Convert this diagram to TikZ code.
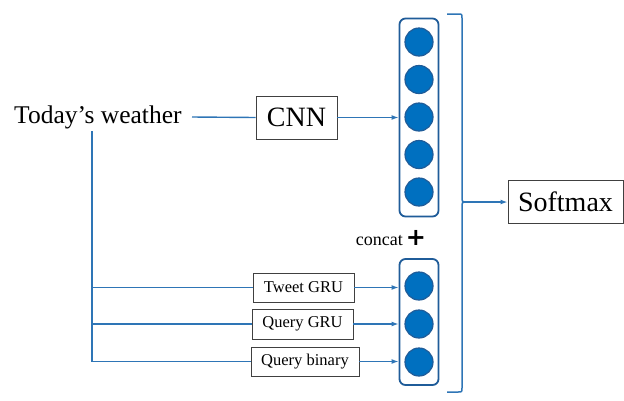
\documentclass[tikz,border=0pt]{standalone}
\usepackage{fontspec}
\setmainfont{Liberation Serif}
\newfontfamily\plusfont{DejaVu Sans}
\usetikzlibrary{arrows.meta}
\definecolor{lineblue}{HTML}{2E75B6}
\definecolor{fillblue}{HTML}{0070C0}
\definecolor{edgeblue}{HTML}{1F5C99}
\definecolor{boxgray}{HTML}{404040}
\tikzset{
  conn/.style={draw=lineblue, line width=1.4pt},
  arr/.style={conn, -{Latex[length=7pt,width=5pt]}},
  textbox/.style={draw=boxgray, line width=0.9pt, inner sep=0pt, align=center},
  bigbox/.style={textbox, font=\fontsize{28}{28}\selectfont},
  smallbox/.style={textbox, font=\fontsize{16.5}{16.5}\selectfont},
  column/.style={draw=edgeblue, line width=1.8pt, rounded corners=6pt, fill=white, inner sep=0pt, minimum width=39pt},
  unit/.style={circle, draw=edgeblue, line width=1.2pt, fill=fillblue, minimum size=28pt, inner sep=0pt},
}
\begin{document}
\begin{tikzpicture}[x=1pt,y=-1pt]
\useasboundingbox (0,0) rectangle (624,400);
% input text
\node[anchor=base west, inner sep=0pt, font=\fontsize{25.5}{25.5}\selectfont] (tw) at (14,123) {Today’s weather};
\coordinate (twout) at (192,117);
\coordinate (twdown) at (92,131);
\coordinate (br1) at (92,287.5);
\coordinate (br2) at (92,324);
\coordinate (br3) at (92,361.5);
% CNN
\node[bigbox, minimum width=81pt, minimum height=43pt] (cnn) at (296.5,117.5) {CNN};
% top column
\node[column, minimum height=198pt] (colA) at (419,117.5) {};
\foreach \i/\y in {1/42,2/79.5,3/117,4/154.5,5/192}{
  \node[unit] (a\i) at (419,\y) {};
}
% bottom column
\node[column, minimum height=126pt] (colB) at (419,322) {};
\foreach \i/\y in {1/286,2/324,3/362}{
  \node[unit] (b\i) at (419,\y) {};
}
% small boxes
\node[smallbox, minimum width=101pt, minimum height=29pt] (tgru) at (303.5,287.5) {Tweet GRU};
\node[smallbox, minimum width=101pt, minimum height=30pt] (qgru) at (302.5,324) {Query GRU};
\node[smallbox, minimum width=108pt, minimum height=29pt] (qbin) at (305,361.5) {Query binary};
% softmax
\node[bigbox, minimum width=115pt, minimum height=43pt] (soft) at (565.5,202) {Softmax};
% concat +
\node[anchor=base east, inner sep=0pt, font=\fontsize{18}{18}\selectfont] (concat) at (403,245) {concat};
\node[inner sep=0pt, font=\plusfont\bfseries\fontsize{24}{24}\selectfont] (plus) at (416,238) {+};
% connectors
\draw[conn] (twout) -- (cnn.west);
\draw[arr] (cnn.east) -- (cnn.east -| colA.west);
\draw[conn] (twdown) -- (br3);
\draw[conn] (br1) -- (tgru.west);
\draw[conn] (br2) -- (qgru.west);
\draw[conn] (br3) -- (qbin.west);
\draw[arr] (tgru.east) -- (tgru.east -| colB.west);
\draw[arr] (qgru.east) -- (qgru.east -| colB.west);
\draw[arr] (qbin.east) -- (qbin.east -| colB.west);
% bracket
\coordinate (tip) at (467,202);
\draw[conn, line width=1.5pt] (447,14) -- (458,14) .. controls (462,14) .. (462,18) -- (462,197)
  .. controls (462,202) .. (tip) .. controls (462,202) .. (462,207) -- (462,388)
  .. controls (462,392) .. (458,392) -- (447,392);
\draw[arr] (tip) -- (soft.west);
\end{tikzpicture}
\end{document}
